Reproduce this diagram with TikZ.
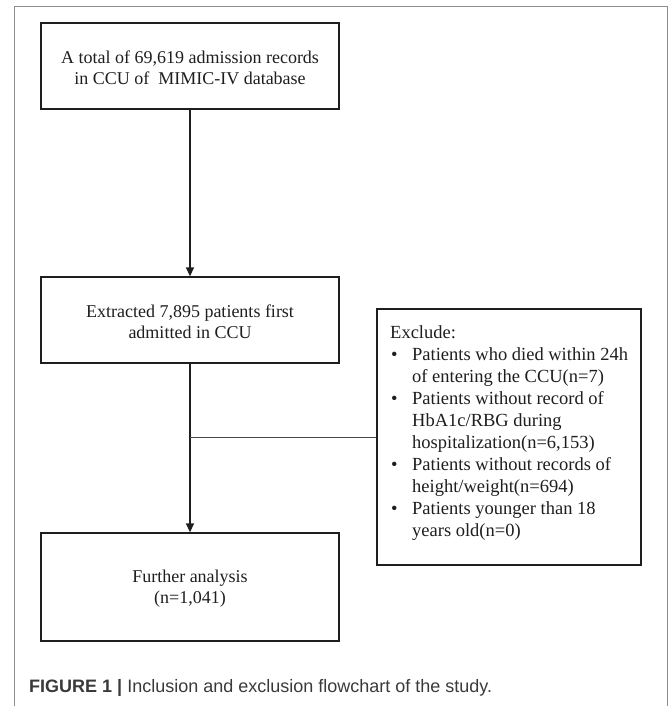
\documentclass[tikz,border=0pt]{standalone}
\usepackage{fontspec}
\setmainfont{Liberation Serif}
\newfontfamily\capfont{Liberation Sans}
\usetikzlibrary{arrows.meta,positioning}
\definecolor{linec}{HTML}{1E1E1E}
\definecolor{framec}{HTML}{8C8C8C}
\definecolor{capc}{HTML}{3A3A3A}
\tikzset{
  box/.style={draw=linec, line width=1.3pt, minimum width=298pt, inner sep=0pt},
  txt/.style={align=center, font=\fontsize{18}{21}\selectfont, text=linec, inner sep=0pt},
  arr/.style={draw=linec, line width=1.3pt, -{Triangle[length=9pt,width=8pt]}},
  conn/.style={draw=linec!80, line width=0.9pt},
}
\begin{document}
\begin{tikzpicture}[x=1pt,y=-1pt]
\useasboundingbox (0,0) rectangle (669,706);
\draw[framec, line width=1pt] (14,706) -- (14,6.5) -- (667,6.5) -- (667,706);

\node[box, minimum height=86pt] (b1) at (190,66) {};
\node[txt] (t1) at ([yshift=-1.5pt]b1.center) {A total of 69,619 admission records\\in CCU of \ MIMIC-IV database};

\node[box, minimum height=86pt] (b2) at (190,320) {};
\node[txt] (t2) at ([yshift=-2pt]b2.center) {Extracted 7,895 patients first\\admitted in CCU};

\node[box, minimum height=108pt] (b3) at (190,587) {};
\node[txt] (t3) at ([yshift=-2pt]b3.center) {Further analysis\\(n=1,041)};

\node[box, minimum width=264pt, minimum height=256pt] (ex) at (509,437) {};
\node[align=left, anchor=north west, inner sep=0pt, text=linec,
      font=\fontsize{18.5}{22}\selectfont] (et) at (390,325)
{Exclude:\\
\makebox[22pt][l]{\hspace{1pt}\textbullet}Patients who died within 24h\\
\hspace*{22pt}of entering the CCU(n=7)\\
\makebox[22pt][l]{\hspace{1pt}\textbullet}Patients without record of\\
\hspace*{22pt}HbA1c/RBG during\\
\hspace*{22pt}hospitalization(n=6,153)\\
\makebox[22pt][l]{\hspace{1pt}\textbullet}Patients without records of\\
\hspace*{22pt}height/weight(n=694)\\
\makebox[22pt][l]{\hspace{1pt}\textbullet}Patients younger than 18\\
\hspace*{22pt}years old(n=0)};

\path[arr] (b1.south) -- (b2.north);
\path[arr] (b2.south) -- (b3.north);
\coordinate (j) at (b2.south |- ex.west);
\path[conn] (j) -- (ex.west);

\node[anchor=base west, inner sep=0pt, font=\capfont\fontsize{18}{20}\selectfont, text=capc] (cap) at (29,692)
{\textbf{FIGURE 1} \textbf{|} Inclusion and exclusion flowchart of the study.};
\end{tikzpicture}
\end{document}
